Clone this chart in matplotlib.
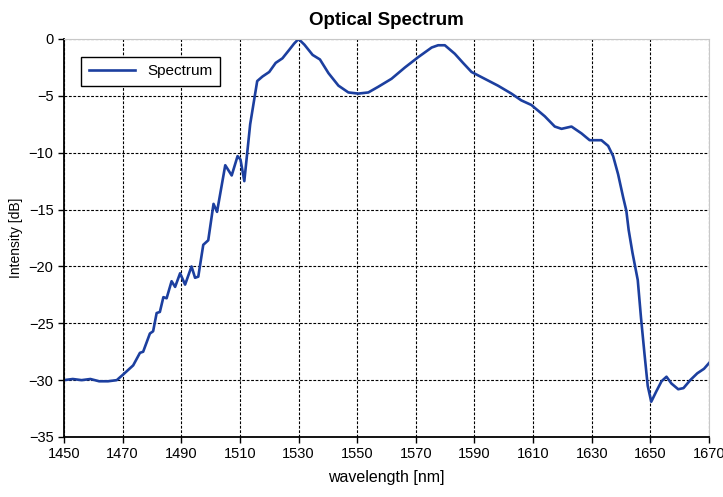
import matplotlib
matplotlib.use("Agg")
import matplotlib.pyplot as plt

wavelength = [1450, 1453, 1456, 1459, 1462, 1465, 1468, 1470.2, 1473.6, 1475.9, 1477, 1479.3,
              1480.4, 1481.6, 1482.7, 1483.9, 1485, 1486.7, 1487.9, 1489.6, 1491.3, 1493.5,
              1494.7, 1495.8, 1497.5, 1499.2, 1501, 1502.2, 1505, 1507.2, 1509.2, 1510.2,
              1511.5, 1513.5, 1515.9, 1517.7, 1520, 1522.2, 1524.5, 1526.8, 1528.5, 1530,
              1532, 1534.8, 1537.3, 1540.2, 1543.6, 1547, 1550.4, 1553.8, 1557.2, 1561.7,
              1566.3, 1570.8, 1575.4, 1577.6, 1579.9, 1583.3, 1586.1, 1589, 1593.5, 1598,
              1602.6, 1606, 1609.4, 1614, 1617.4, 1619.7, 1623.1, 1626.5, 1629.3, 1633.3,
              1635.6, 1637.3, 1639, 1640.7, 1641.8, 1642.6, 1643.9, 1645.7, 1646.8, 1648,
              1649.1, 1650.3, 1652, 1653.8, 1655.5, 1657.2, 1659.5, 1661.3, 1663.6, 1666,
              1668.3, 1670]
intensity = [-30.0, -29.9, -30.0, -29.9, -30.1, -30.1, -30.0, -29.5, -28.7, -27.6, -27.5, -25.9,
             -25.7, -24.1, -24.0, -22.7, -22.8, -21.3, -21.8, -20.6, -21.6, -20.0,
             -21.0, -20.9, -18.1, -17.7, -14.5, -15.2, -11.1, -12.0, -10.3, -10.6,
             -12.5, -7.5, -3.7, -3.3, -2.9, -2.1, -1.7, -0.96, -0.4, 0.0,
             -0.5, -1.4, -1.8, -3.0, -4.1, -4.7, -4.8, -4.7, -4.2, -3.5,
             -2.5, -1.6, -0.75, -0.55, -0.55, -1.3, -2.1, -2.9, -3.5, -4.1,
             -4.8, -5.4, -5.8, -6.8, -7.7, -7.9, -7.7, -8.3, -8.9, -8.9,
             -9.4, -10.3, -11.9, -13.9, -15.1, -16.8, -18.8, -21.2, -24.5, -27.7,
             -30.5, -31.9, -31.0, -30.1, -29.7, -30.3, -30.8, -30.7, -30.0, -29.4,
             -29.0, -28.5]

xticks = list(range(1450, 1671, 20))
yticks = list(range(-35, 1, 5))

plt.rcParams['font.family'] = ['Liberation Sans', 'DejaVu Sans']

fig = plt.figure(figsize=(7.23, 4.97), dpi=100)
ax = fig.add_axes([64/723, 1-437/497, (709-64)/723, (437-39)/497])

ax.plot(wavelength, intensity, color='#1c3f9f', lw=1.9, label='Spectrum',
        solid_joinstyle='round')

ax.set_xlim(1450, 1670)
ax.set_ylim(-35, 0)
ax.set_xticks(xticks)
ax.set_yticks(yticks)
ax.tick_params(axis='both', labelsize=10.5, direction='out', length=4, width=1)
ax.grid(True, color='black', linestyle=(0, (2.5, 1.5)), linewidth=0.8)

for s in ['top', 'right']:
    ax.spines[s].set_color('#c8c8c8')
    ax.spines[s].set_linewidth(0.8)
for s in ['left', 'bottom']:
    ax.spines[s].set_linewidth(1.3)

ax.set_title('Optical Spectrum', fontsize=13.5, fontweight='bold', pad=10)
ax.set_xlabel('wavelength [nm]', fontsize=11.5, labelpad=6)
ax.set_ylabel('Intensity [dB]', fontsize=10, labelpad=4)

leg = ax.legend(loc='upper left', bbox_to_anchor=(0.015, 0.975), fontsize=11,
                fancybox=False, framealpha=1, edgecolor='black', handlelength=3,
                borderpad=0.5)
leg.get_frame().set_linewidth(1.0)

fig.savefig('out.png', dpi=100)
